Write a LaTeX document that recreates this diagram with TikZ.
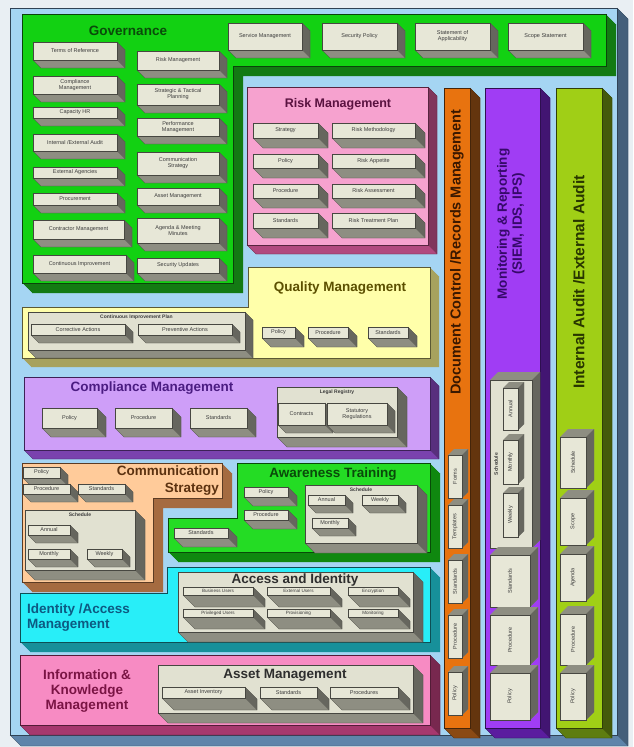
\documentclass[tikz,border=0pt]{standalone}
\usepackage{fontspec}
\setmainfont{Liberation Sans}
\usetikzlibrary{calc}
\definecolor{pagebg}{HTML}{E9EFF3}
\definecolor{bgface}{HTML}{A5D5F3}\definecolor{bgside}{HTML}{5E84AA}
\definecolor{govface}{HTML}{12D112}\definecolor{govside}{HTML}{137A13}\definecolor{govtext}{HTML}{0A4A0A}
\definecolor{riskface}{HTML}{F6A2CF}\definecolor{riskside}{HTML}{B1497F}\definecolor{risktext}{HTML}{5A1240}
\definecolor{qualface}{HTML}{FFFFAA}\definecolor{qualside}{HTML}{A7A25E}\definecolor{qualtext}{HTML}{5C5000}
\definecolor{compface}{HTML}{CE9EF8}\definecolor{compside}{HTML}{7A42AE}\definecolor{comptext}{HTML}{4B1C82}
\definecolor{commface}{HTML}{FFCB9A}\definecolor{commside}{HTML}{A56B40}\definecolor{commtext}{HTML}{5C3210}
\definecolor{awface}{HTML}{24DC24}\definecolor{awside}{HTML}{0F880F}\definecolor{awtext}{HTML}{0A4A0A}
\definecolor{idface}{HTML}{28EEF8}\definecolor{idside}{HTML}{17909A}\definecolor{idtext}{HTML}{0D5A82}
\definecolor{infoface}{HTML}{F78BC3}\definecolor{infoside}{HTML}{A6386E}\definecolor{infotext}{HTML}{7A1444}
\definecolor{docface}{HTML}{E8730F}\definecolor{docside}{HTML}{8B4A14}\definecolor{doctext}{HTML}{3A1800}
\definecolor{monface}{HTML}{A03DF4}\definecolor{monside}{HTML}{5B1D9F}\definecolor{montext}{HTML}{36096A}
\definecolor{audface}{HTML}{A0CF16}\definecolor{audside}{HTML}{5E7D10}\definecolor{audtext}{HTML}{283600}
\definecolor{boxface}{HTML}{E7E7D7}\definecolor{boxside}{HTML}{8E8E82}\definecolor{boxtxt}{HTML}{3C3C3C}
\definecolor{contface}{HTML}{E1E1D1}\definecolor{darktitle}{HTML}{2E2E2E}
\newcommand{\tfont}{\bfseries\fontsize{13.5}{15}\selectfont}
% shadow toward bottom-right
\newcommand{\faces}[7]{%
  \fill[#7] (#3,#2) -- ({#3+#5},{#2+#5}) -- ({#3+#5},{#4+#5}) -- ({#1+#5},{#4+#5}) -- (#1,#4) -- (#3,#4) -- cycle;
  \fill[#7!72!black] (#3,#2) -- ({#3+#5},{#2+#5}) -- ({#3+#5},{#4+#5}) -- (#3,#4) -- cycle;
  \draw[#7!50!black, line width=.3pt] (#3,#2) -- ({#3+#5},{#2+#5}) -- ({#3+#5},{#4+#5}) -- ({#1+#5},{#4+#5}) -- (#1,#4);
  \filldraw[fill=#6, draw=#7!50!black, line width=.4pt] (#1,#2) rectangle (#3,#4);}
% shadow toward top-right
\newcommand{\upfaces}[7]{%
  \fill[#7] (#1,#2) -- ({#1+#5},{#2-#5}) -- ({#3+#5},{#2-#5}) -- ({#3+#5},{#4-#5}) -- (#3,#4) -- (#3,#2) -- cycle;
  \fill[#7!72!black] (#3,#2) -- ({#3+#5},{#2-#5}) -- ({#3+#5},{#4-#5}) -- (#3,#4) -- cycle;
  \filldraw[fill=#6, draw=#7!50!black, line width=.4pt] (#1,#2) rectangle (#3,#4);}
\newcommand{\gbox}[7]{\faces{#2}{#3}{#4}{#5}{#6}{boxface}{boxside}%
  \node[boxtext] (#1) at ({(#2+#4)/2},{(#3+#5)/2}) {#7};}
\newcommand{\cbox}[7]{\faces{#2}{#3}{#4}{#5}{#6}{contface}{boxside}%
  \node[conttitle] (#1) at ({(#2+#4)/2},{#3+5}) {#7};}
\newcommand{\ubox}[7]{\upfaces{#2}{#3}{#4}{#5}{#6}{boxface}{boxside}%
  \node[boxtext, rotate=90] (#1) at ({(#2+#4)/2},{(#3+#5)/2}) {#7};}
\newcommand{\region}[4]{%
  \foreach \i in {1,...,#2}{\fill[#4, shift={(\i,\i)}] #1;}
  \filldraw[fill=#3, draw=#4!55!black, line width=.5pt] #1;}
\begin{document}
\begin{tikzpicture}[x=1pt,y=-1pt,
  boxtext/.style={font=\fontsize{5.5}{6}\selectfont, text=boxtxt, align=center, inner sep=0pt},
  smalltext/.style={font=\fontsize{4.6}{5}\selectfont, text=boxtxt, align=center, inner sep=0pt},
  conttitle/.style={font=\bfseries\fontsize{5}{5.5}\selectfont, text=boxtxt, inner sep=0pt},
  title/.style={font=\tfont, inner sep=0pt, align=center}]
\useasboundingbox (0,0) rectangle (633,747);
\fill[pagebg] (0,0) rectangle (633,747);
% background frame
\faces{10}{8}{617}{735}{11}{bgface}{bgside}

% ===== Governance =====
\region{(22,14) -- (606,14) -- (606,66) -- (233,66) -- (233,283) -- (22,283) -- cycle}{10}{govface}{govside}
\node[title, text=govtext] (govt) at (128,31) {Governance};
\gbox{g1}{33}{42}{117}{60}{8}{Terms of Reference}
\gbox{g2}{33}{76}{117}{94}{8}{Compliance\\Management}
\gbox{g3}{33}{107}{117}{118}{8}{Capacity HR}
\gbox{g4}{33}{134}{117}{151}{8}{Internal /External Audit}
\gbox{g5}{33}{167}{117}{178}{8}{External Agencies}
\gbox{g6}{33}{193}{117}{205}{8}{Procurement}
\gbox{g7}{33}{220}{124}{239}{8}{Contractor Management}
\gbox{g8}{33}{255}{126}{273}{8}{Continuous Improvement}
\gbox{g9}{137}{51}{219}{70}{8}{Risk Management}
\gbox{g10}{137}{84}{219}{105}{8}{Strategic \& Tactical\\Planning}
\gbox{g11}{137}{118}{219}{136}{8}{Performance\\Management}
\gbox{g12}{137}{152}{219}{175}{8}{Communication\\Strategy}
\gbox{g13}{137}{188}{219}{205}{8}{Asset Management}
\gbox{g14}{137}{218}{219}{243}{8}{Agenda \& Meeting\\Minutes}
\gbox{g15}{137}{258}{219}{273}{8}{Security Updates}
\gbox{g16}{228}{23}{302}{50}{8}{Service Management}
\gbox{g17}{322}{23}{397}{50}{8}{Security Policy}
\gbox{g18}{415}{23}{490}{50}{8}{Statement of\\Applicability}
\gbox{g19}{508}{23}{583}{50}{8}{Scope Statement}

% ===== Risk Management =====
\faces{247}{87}{428}{245}{9}{riskface}{riskside}
\node[title, font=\bfseries\fontsize{12.5}{14}\selectfont, text=risktext] (riskt) at (338,104) {Risk Management};
\gbox{r1}{253}{123}{318}{138}{10}{Strategy}
\gbox{r2}{253}{154}{318}{168}{10}{Policy}
\gbox{r3}{253}{184}{318}{198}{10}{Procedure}
\gbox{r4}{253}{213}{318}{228}{10}{Standards}
\gbox{r5}{332}{123}{415}{138}{10}{Risk Methodology}
\gbox{r6}{332}{154}{415}{168}{10}{Risk Appetite}
\gbox{r7}{332}{184}{415}{198}{10}{Risk Assessment}
\gbox{r8}{332}{213}{415}{228}{10}{Risk Treatment Plan}

% ===== Quality Management =====
\region{(248,267) -- (430,267) -- (430,358) -- (22,358) -- (22,307) -- (248,307) -- cycle}{9}{qualface}{qualside}
\node[title, text=qualtext] (qualt) at (340,288) {Quality Management};
\cbox{cip}{28}{312}{245}{350}{8}{Continuous Improvement Plan}
\gbox{q1}{31}{324}{125}{335}{8}{Corrective Actions}
\gbox{q2}{138}{324}{232}{335}{8}{Preventive Actions}
\gbox{q3}{262}{327}{295}{338}{9}{Policy}
\gbox{q4}{308}{327}{348}{338}{9}{Procedure}
\gbox{q5}{368}{327}{408}{338}{9}{Standards}

% ===== Compliance Management =====
\faces{24}{377}{430}{450}{9}{compface}{compside}
\node[title, text=comptext] (compt) at (152,388) {Compliance Management};
\gbox{c1}{42}{408}{97}{428}{9}{Policy}
\gbox{c2}{115}{408}{172}{428}{9}{Procedure}
\gbox{c3}{190}{408}{247}{428}{9}{Standards}
\cbox{legal}{277}{387}{397}{437}{10}{Legal Registry}
\gbox{c4}{278}{403}{325}{425}{8}{Contracts}
\gbox{c5}{327}{403}{387}{425}{8}{Statutory\\Regulations}

% ===== Communication Strategy =====
\region{(22,463) -- (222,463) -- (222,498) -- (153,498) -- (153,582) -- (22,582) -- cycle}{10}{commface}{commside}
\node[title, text=commtext, anchor=east] (commt1) at (219,471) {Communication};
\node[title, text=commtext, anchor=east] (commt2) at (219,489) {Strategy};
\gbox{m1}{23}{467}{60}{478}{8}{Policy}
\gbox{m2}{23}{484}{70}{494}{8}{Procedure}
\gbox{m3}{78}{484}{125}{494}{8}{Standards}
\cbox{msch}{25}{510}{135}{570}{10}{Schedule}
\gbox{m4}{28}{525}{70}{535}{8}{Annual}
\gbox{m5}{28}{549}{70}{559}{8}{Monthly}
\gbox{m6}{87}{549}{122}{559}{8}{Weekly}

% ===== Awareness Training =====
\region{(237,463) -- (430,463) -- (430,552) -- (168,552) -- (168,518) -- (237,518) -- cycle}{10}{awface}{awside}
\node[title, text=awtext] (awt) at (333,474) {Awareness Training};
\gbox{a1}{244}{487}{288}{497}{9}{Policy}
\gbox{a2}{244}{510}{288}{520}{9}{Procedure}
\gbox{a3}{174}{528}{228}{538}{9}{Standards}
\cbox{asch}{305}{485}{417}{543}{10}{Schedule}
\gbox{a4}{308}{495}{345}{505}{8}{Annual}
\gbox{a5}{362}{495}{398}{505}{8}{Weekly}
\gbox{a6}{312}{518}{348}{528}{8}{Monthly}

% ===== Identity / Access Management =====
\region{(167,567) -- (430,567) -- (430,642) -- (20,642) -- (20,593) -- (167,593) -- cycle}{10}{idface}{idside}
\node[title, text=idtext, anchor=west, align=left] (idt) at (27,618) {Identity /Access\\Management};
\faces{178}{572}{413}{632}{10}{contface}{boxside}
\node[title, text=darktitle] (acct) at (295,580) {Access and Identity};
\faces{183}{587}{253}{595}{12}{boxface}{boxside}\node[smalltext] (i1) at (218,591) {Business Users};
\faces{267}{587}{330}{595}{12}{boxface}{boxside}\node[smalltext] (i2) at (298.5,591) {External Users};
\faces{348}{587}{398}{595}{12}{boxface}{boxside}\node[smalltext] (i3) at (373,591) {Encryption};
\faces{183}{609}{253}{617}{12}{boxface}{boxside}\node[smalltext] (i4) at (218,613) {Privileged Users};
\faces{267}{609}{330}{617}{12}{boxface}{boxside}\node[smalltext] (i5) at (298.5,613) {Provisioning};
\faces{348}{609}{398}{617}{12}{boxface}{boxside}\node[smalltext] (i6) at (373,613) {Monitoring};

% ===== Information & Knowledge Management =====
\faces{20}{655}{430}{725}{10}{infoface}{infoside}
\node[title, text=infotext] (infot) at (87,691) {Information \&\\Knowledge\\Management};
\faces{158}{665}{413}{713}{10}{contface}{boxside}
\node[title, text=darktitle] (assett) at (285,675) {Asset Management};
\gbox{s1}{162}{687}{245}{698}{12}{Asset Inventory}
\gbox{s2}{260}{687}{317}{698}{12}{Standards}
\gbox{s3}{330}{687}{398}{698}{12}{Procedures}

% ===== Document Control column =====
\faces{444}{88}{470}{728}{10}{docface}{docside}
\node[title, font=\bfseries\fontsize{14.5}{16}\selectfont, text=doctext, rotate=90] (doct) at (457,252) {Document Control /Records Management};
\ubox{d1}{448}{455}{462}{498}{6}{Forms}
\ubox{d2}{448}{505}{462}{548}{6}{Templates}
\ubox{d3}{448}{560}{462}{603}{6}{Standards}
\ubox{d4}{448}{615}{462}{658}{6}{Procedure}
\ubox{d5}{448}{672}{462}{715}{6}{Policy}

% ===== Monitoring & Reporting column =====
\faces{485}{88}{540}{728}{10}{monface}{monside}
\node[title, text=montext, rotate=90] (mont) at (511,224) {Monitoring \& Reporting\\(SIEM, IDS, IPS)};
\upfaces{490}{380}{532}{548}{8}{contface}{boxside}
\node[conttitle, rotate=90] (monsch) at (496,464) {Schedule};
\ubox{n1}{503}{388}{518}{430}{6}{Annual}
\ubox{n2}{503}{440}{518}{484}{6}{Monthly}
\ubox{n3}{503}{493}{518}{537}{6}{Weekly}
\ubox{n4}{490}{555}{530}{607}{8}{Standards}
\ubox{n5}{490}{615}{530}{665}{8}{Procedure}
\ubox{n6}{490}{673}{530}{720}{8}{Policy}

% ===== Internal Audit column =====
\faces{556}{88}{602}{728}{10}{audface}{audside}
\node[title, font=\bfseries\fontsize{15.5}{17}\selectfont, text=audtext, rotate=90] (audt) at (579,282) {Internal Audit /External Audit};
\ubox{u1}{560}{437}{586}{488}{8}{Schedule}
\ubox{u2}{560}{498}{586}{545}{8}{Scope}
\ubox{u3}{560}{554}{586}{601}{8}{Agenda}
\ubox{u4}{560}{614}{586}{665}{8}{Procedure}
\ubox{u5}{560}{673}{586}{720}{8}{Policy}
\end{tikzpicture}
\end{document}
